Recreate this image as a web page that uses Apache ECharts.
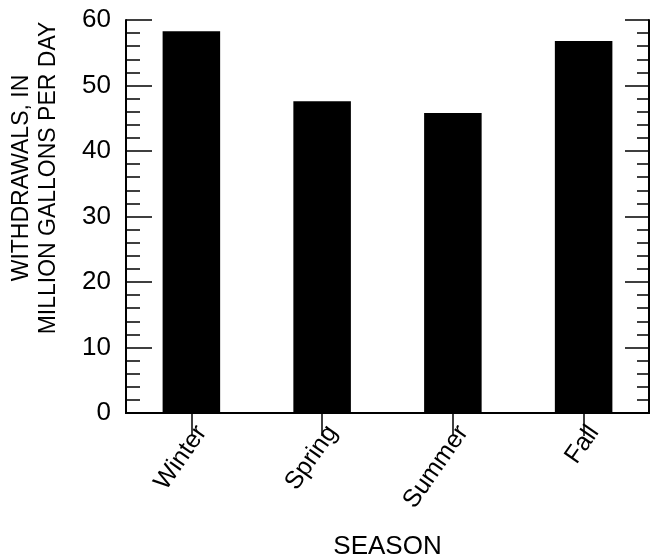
<!DOCTYPE html>
<html>
<head>
<meta charset="utf-8">
<script src="https://cdn.jsdelivr.net/npm/echarts@6/dist/echarts.min.js"></script>
<style>
  html, body { margin: 0; padding: 0; background: #fff; }
  #chart { width: 650px; height: 557px; }
</style>
</head>
<body>
<div id="chart"></div>
<script>
const seasons = ['Winter', 'Spring', 'Summer', 'Fall']
const withdrawals = [58.3, 47.6, 45.8, 56.8]
const yTicks = [0, 10, 20, 30, 40, 50, 60]

const font = 'Liberation Sans, Arial, Helvetica, sans-serif'
const axisLine = { show: true, lineStyle: { color: '#000', width: 2 } }

const chart = echarts.init(document.getElementById('chart'))
chart.setOption({
  backgroundColor: '#fff',
  animation: false,
  grid: { left: 126, right: 1, top: 20, bottom: 144, containLabel: false, outerBoundsMode: 'none' },
  xAxis: [
    {
      type: 'category', data: seasons, position: 'bottom',
      axisLine, axisTick: { show: false },
      axisLabel: {
        color: '#000', fontFamily: font, fontSize: 25, rotate: 55, margin: 8,
        verticalAlign: 'top',
      },
      name: 'SEASON', nameLocation: 'middle', nameGap: 121,
      nameTextStyle: { color: '#000', fontFamily: font, fontSize: 26 },
    },
    {
      type: 'category', data: seasons, position: 'top',
      axisLine,
      axisTick: { show: true, inside: true, alignWithLabel: true, length: 23, lineStyle: { color: '#000', width: 1.5 } },
      axisLabel: { show: false },
    },
  ],
  yAxis: [
    {
      type: 'value', min: yTicks[0], max: yTicks[yTicks.length - 1], interval: 10, position: 'left',
      axisLine,
      axisTick: { show: true, inside: true, length: 26, lineStyle: { color: '#000', width: 1.5 } },
      minorTick: { show: true, splitNumber: 5, length: 14, lineStyle: { color: '#000', width: 1.5 } },
      axisLabel: { color: '#000', fontFamily: font, fontSize: 26, margin: 15 },
      splitLine: { show: false },
    },
    {
      type: 'value', min: yTicks[0], max: yTicks[yTicks.length - 1], interval: 10, position: 'right',
      axisLine,
      axisTick: { show: true, inside: true, length: 24, lineStyle: { color: '#000', width: 1.5 } },
      minorTick: { show: true, splitNumber: 5, length: 12, lineStyle: { color: '#000', width: 1.5 } },
      axisLabel: { show: false },
      splitLine: { show: false },
    },
  ],
  graphic: [{
    type: 'text', x: 35, y: 178, rotation: Math.PI / 2,
    style: {
      text: 'WITHDRAWALS, IN\nMILLION GALLONS PER DAY',
      fill: '#000', font: '23px ' + font, lineHeight: 27,
      textAlign: 'center', textVerticalAlign: 'middle',
    },
  }],
  series: [{
    type: 'bar', data: withdrawals, xAxisIndex: 0, yAxisIndex: 0,
    barWidth: '44%',
    itemStyle: { color: '#000' },
  }],
})
</script>
</body>
</html>
